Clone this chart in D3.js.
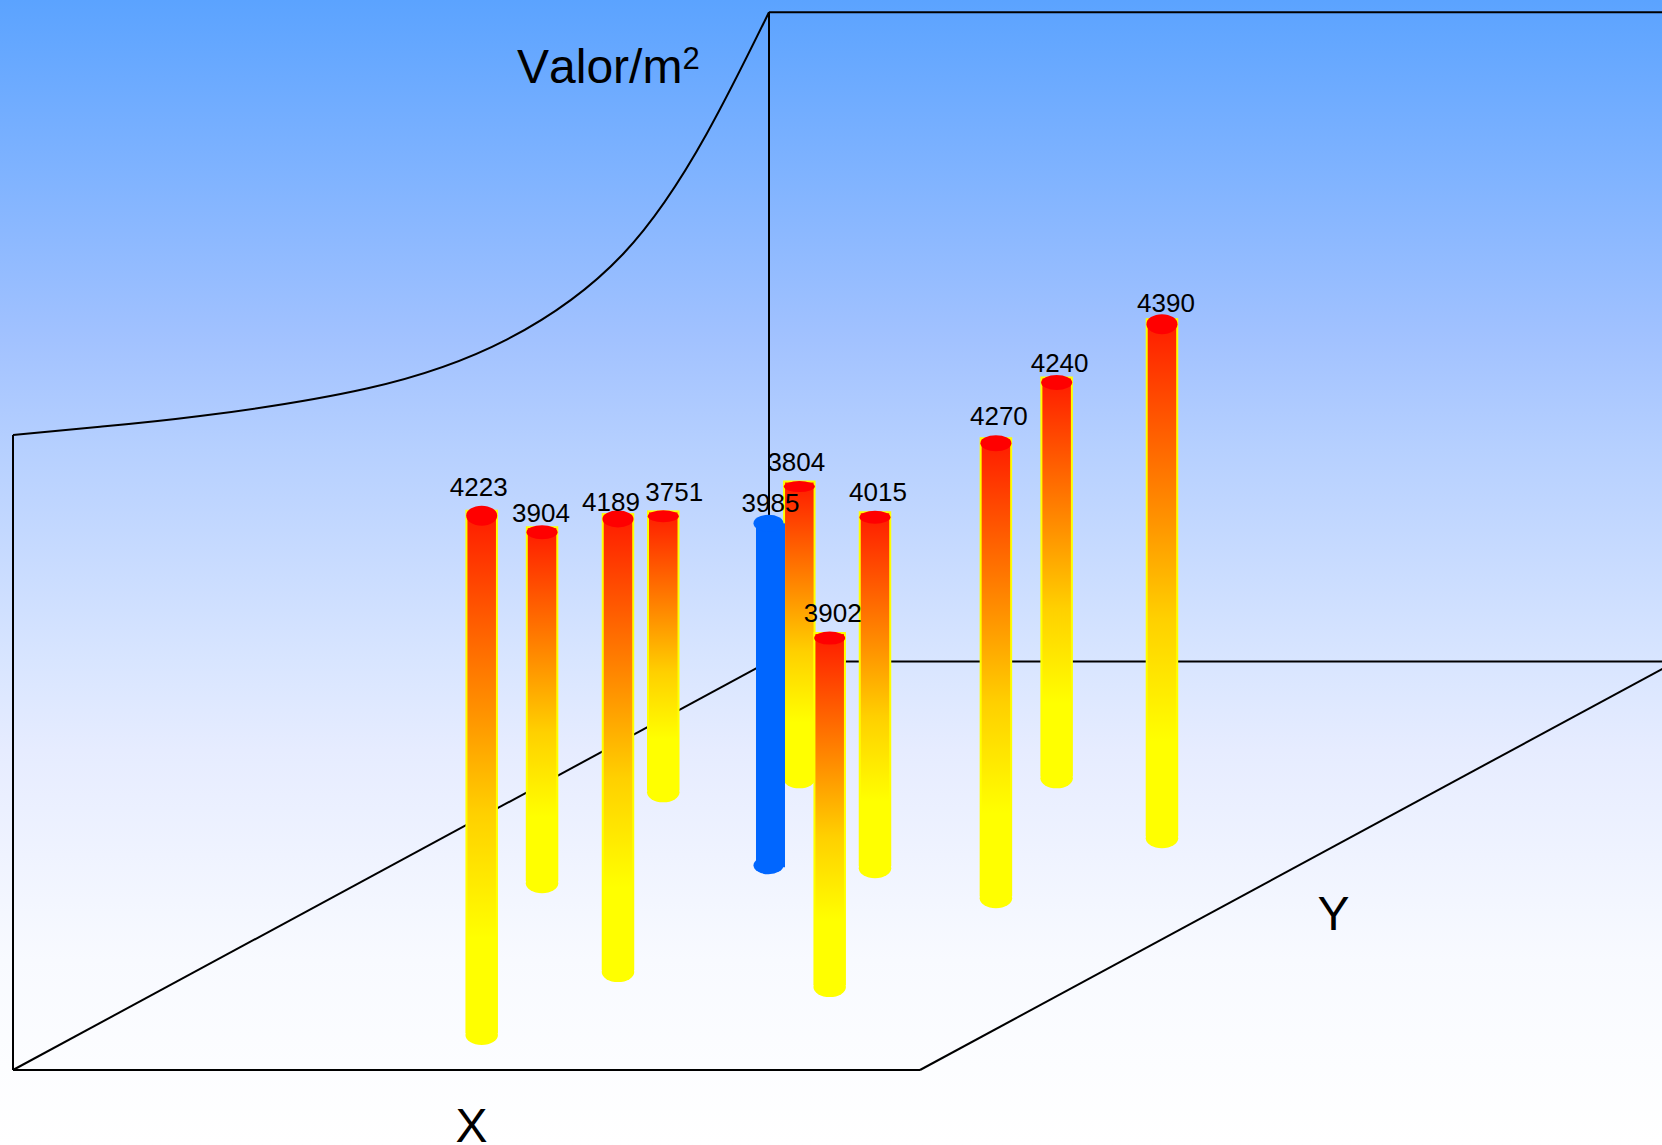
<!DOCTYPE html>
<html><head><meta charset="utf-8">
<script src="https://cdn.jsdelivr.net/npm/d3@7/dist/d3.min.js"></script>
<style>html,body{margin:0;padding:0;background:#fff;overflow:hidden}svg{display:block}text{font-family:"Liberation Sans",Arial,sans-serif;fill:#000;font-kerning:none}</style>
</head><body><div id="c"></div>
<script>
// Data (chart units: 0-100 along each 3D axis)
const values   = [4223,3904,4189,3751,3985,3804,3902,4015,4270,4240,4390];
const posX     = [44.54,20.22,46.73,15.04,41.63,27.19,73.13,53.87,73.32,55.56,79.4];
const posDepth = [8.56,45.72,23.96,67.97,50.12,71.39,20.29,49.39,42.05,71.39,56.72];
const posZ     = [79.9,54.0,69.7,42.46,52.6,44.9,53.7,54.0,70.0,60.9,79.1];
const highlighted = 3985;
const curveDepth = [0,11.51,24.74,46.79,65.3,80.73,91.76,100];
const curveZ     = [97.7,91.72,85.05,75.44,71.33,74.85,86.37,99.9];

// Presentation
const W=1662,H=1145;
const capRy = {4223:10,3904:7,4189:8.5,3751:6,3985:8.5,3804:5.5,3902:6.5,4015:6.5,4270:8,4240:7.5,4390:10};
const labelOff = {4223:[-3,-20],3904:[-1,-10],4189:[-7,-8],3751:[11,-15],3985:[1,-11],3804:[-3,-16],3902:[3,-16],4015:[3,-16],4270:[3,-18],4240:[3,-11],4390:[4,-12]};
const drawOrder = [3804,4240,3751,4390,4015,3904,4270,3985,4189,3902,4223];

const sx = d3.scaleLinear().domain([0,100]).range([0,907]);
const dx = d3.scaleLinear().domain([0,100]).range([0,756]);
const dy = d3.scaleLinear().domain([0,100]).range([0,408.5]);
const sz = d3.scaleLinear().domain([0,100]).range([0,650]);
const ox=13, oy=1070;
const px=(x,d)=>ox+sx(x)+dx(d);
const py=(d,z)=>oy-dy(d)-sz(z);

const svg=d3.select("#c").append("svg").attr("width",W).attr("height",H).attr("viewBox",`0 0 ${W} ${H}`);
const defs=svg.append("defs");
const bg=defs.append("linearGradient").attr("id","bg").attr("x1",0).attr("x2",0).attr("y1",0).attr("y2",1);
[[0,"#5ba3ff"],[0.297,"#a2c2ff"],[0.393,"#b6d0ff"],[0.576,"#d8e5ff"],[0.655,"#e6ecff"],[0.838,"#f8faff"],[1,"#ffffff"]]
  .forEach(s=>bg.append("stop").attr("offset",s[0]).attr("stop-color",s[1]));
const bar=defs.append("linearGradient").attr("id","bar").attr("x1",0).attr("x2",0).attr("y1",0).attr("y2",1);
[[0,"#ff1a00"],[0.38,"#ff9000"],[0.58,"#ffd000"],[0.82,"#ffff00"],[1,"#ffff00"]].forEach(s=>bar.append("stop").attr("offset",s[0]).attr("stop-color",s[1]));

svg.append("rect").attr("width",W).attr("height",H).attr("fill","url(#bg)");

// Frame
const frame=svg.append("g").attr("fill","none").attr("stroke","#000").attr("stroke-width",2);
const edge=(a,b)=>frame.append("line").attr("x1",px(a[0],a[1])).attr("y1",py(a[1],a[2])).attr("x2",px(b[0],b[1])).attr("y2",py(b[1],b[2]));
edge([0,0,0],[100,0,0]);
edge([0,0,0],[0,100,0]);
edge([100,0,0],[100,100,0]);
edge([0,100,0],[120,100,0]);
edge([0,0,0],[0,0,curveZ[0]]);
edge([0,100,0],[0,100,curveZ[curveZ.length-1]]);
edge([0,100,curveZ[curveZ.length-1]],[120,100,curveZ[curveZ.length-1]]);
const wall=d3.line().x(d=>px(0,d[0])).y(d=>py(d[0],d[1])).curve(d3.curveNatural);
frame.append("path").attr("d",wall(curveDepth.map((d,i)=>[d,curveZ[i]])));

// Columns
const rows=values.map((v,i)=>({v,x:posX[i],d:posDepth[i],z:posZ[i]}));
const byV=new Map(rows.map(r=>[r.v,r]));
const cols=svg.append("g").selectAll("g").data(drawOrder.map(v=>byV.get(v))).join("g");
cols.each(function(r){
  const g=d3.select(this), cx=px(r.x,r.d), base=py(r.d,0), top=py(r.d,r.z), ry=capRy[r.v];
  if(r.v===highlighted){
    g.append("ellipse").attr("cx",cx-1).attr("cy",base).attr("rx",15).attr("ry",9).attr("fill","#0066ff");
    g.append("rect").attr("x",cx-13.5).attr("y",top).attr("width",29).attr("height",base-top+2).attr("fill","#0066ff");
    g.append("ellipse").attr("cx",cx-1).attr("cy",top).attr("rx",15).attr("ry",ry).attr("fill","#0066ff");
  } else {
    g.append("ellipse").attr("cx",cx).attr("cy",base).attr("rx",16.25).attr("ry",10).attr("fill","#ffff00");
    g.append("rect").attr("x",cx-15.25).attr("y",top-5).attr("width",30.5).attr("height",base-top+2)
      .attr("fill","url(#bar)").attr("stroke","#ffff00").attr("stroke-width",2);
    g.append("ellipse").attr("cx",cx).attr("cy",top).attr("rx",15.5).attr("ry",ry).attr("fill","#ff0000");
  }
});

// Labels
svg.append("g").selectAll("text").data(rows).join("text")
  .attr("x",r=>px(r.x,r.d)+labelOff[r.v][0]).attr("y",r=>py(r.d,r.z)+labelOff[r.v][1])
  .attr("text-anchor","middle").attr("font-size",26).text(r=>r.v);

const title=svg.append("text").attr("x",517).attr("y",82.5).attr("font-size",48);
title.append("tspan").text("Valor/m");
title.append("tspan").attr("font-size",31).attr("dy",-13.5).text("2");
svg.append("text").attr("x",471.5).attr("y",1141.5).attr("text-anchor","middle").attr("font-size",48).text("X");
svg.append("text").attr("x",1333.5).attr("y",930).attr("text-anchor","middle").attr("font-size",48).text("Y");
</script></body></html>
